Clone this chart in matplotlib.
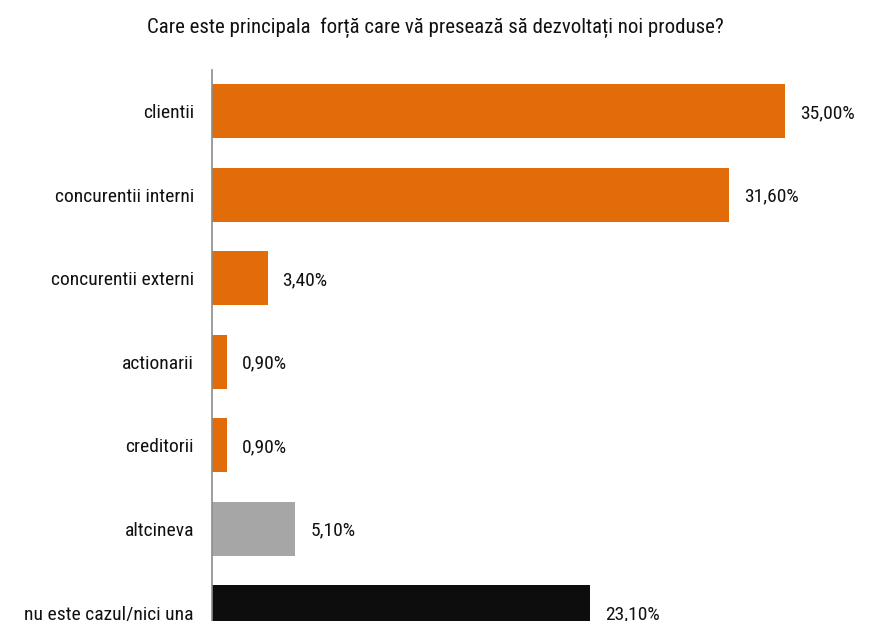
import matplotlib
matplotlib.use("Agg")
import matplotlib.pyplot as plt
from matplotlib import font_manager

# data
categories = ["clientii", "concurentii interni", "concurentii externi",
              "actionarii", "creditorii", "altcineva", "nu este cazul/nici una"]
values = [35.0, 31.6, 3.4, 0.9, 0.9, 5.1, 23.1]
colors = ["#E36C0A"] * 5 + ["#A6A6A6", "#0D0D0D"]
title = "Care este principala  forță care vă presează să dezvoltați noi produse?"

# reference uses a narrow sans; take one if installed
names = {f.name for f in font_manager.fontManager.ttflist}
narrow = [n for n in ["Liberation Sans Narrow", "Roboto Condensed",
                      "DejaVu Sans Condensed"] if n in names]
plt.rcParams['font.family'] = narrow + ["DejaVu Sans"]

W, H = 871, 621
fig = plt.figure(figsize=(W / 100, H / 100), dpi=100)

# axes: left edge at x=212, top at y=69, ~83.5 px per row, 16.37 px per %
row_px = 83.5
top_px = 69.5
left_px = 212
px_per_pct = 16.37
xmax = 40
ax_h = row_px * len(categories)
ax = fig.add_axes([left_px / W, (H - top_px - ax_h) / H,
                   px_per_pct * xmax / W, ax_h / H])

ypos = list(range(len(categories)))
ax.barh(ypos, values, height=0.645, color=colors)
ax.set_ylim(len(categories) - 0.5, -0.5)
ax.set_xlim(0, xmax)

for y, v in zip(ypos, values):
    ax.text(v + 0.9, y + 0.02, f"{v:.2f}%".replace(".", ","), va="center",
            ha="left", fontsize=14, color="#111111")

ax.set_yticks(ypos)
ax.set_yticklabels(categories, fontsize=14, color="#111111")
ax.tick_params(axis="y", length=0, pad=13)
ax.set_xticks([])
for s in ["top", "right", "bottom"]:
    ax.spines[s].set_visible(False)
ax.spines["left"].set_color("#8C8C8C")
ax.spines["left"].set_linewidth(1.2)

fig.text(0.5, 1 - 28 / H, title, ha="center", va="center", fontsize=15,
         color="#111111")

fig.savefig("out.png", dpi=100)
